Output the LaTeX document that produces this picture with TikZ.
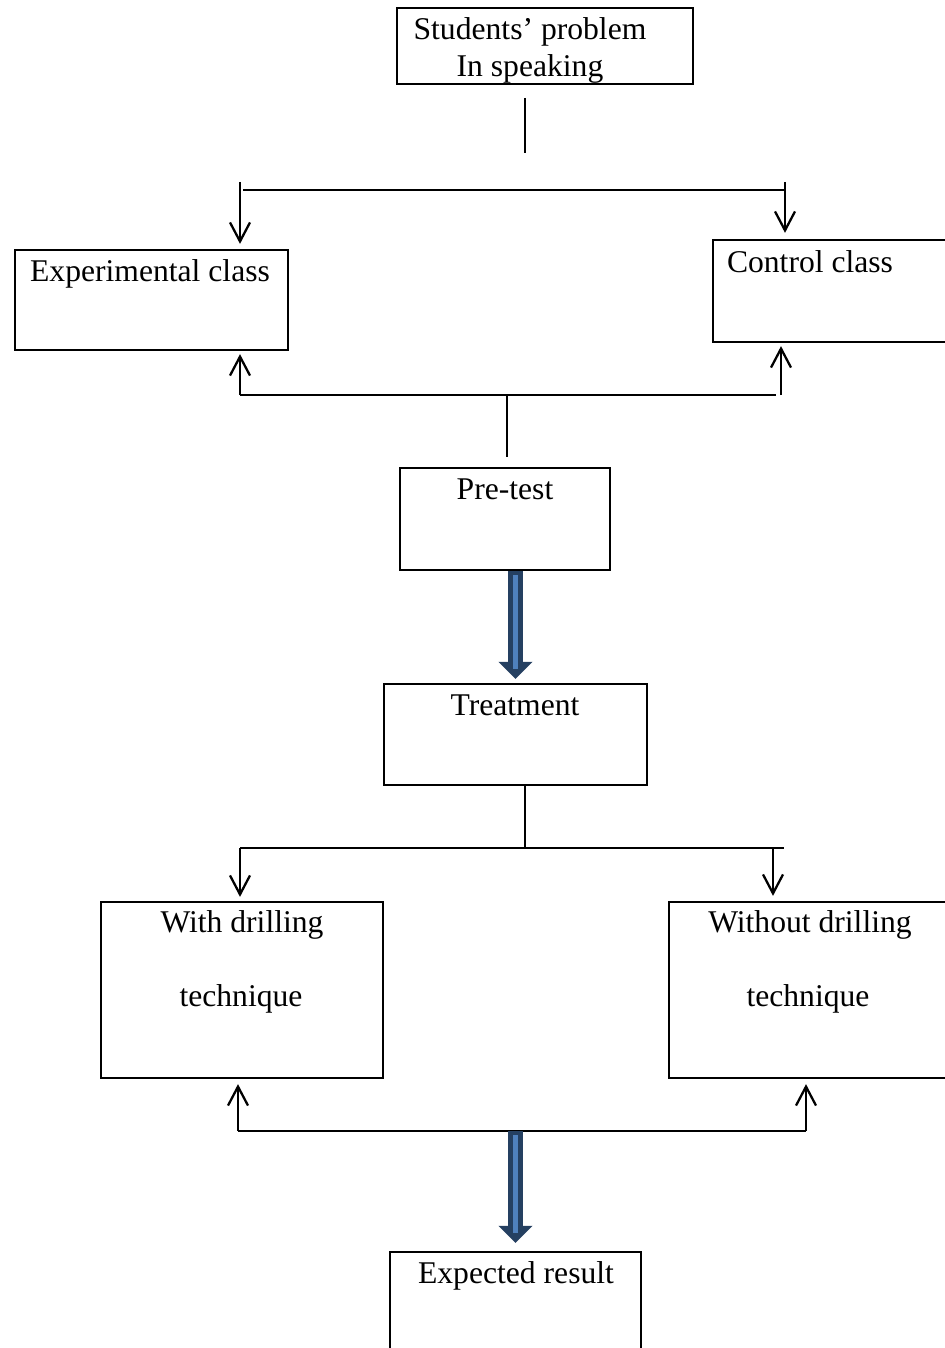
\documentclass[tikz,border=0pt]{standalone}
\usepackage{fontspec}
\setmainfont{Liberation Serif}
\usetikzlibrary{positioning, arrows.meta}
\definecolor{arrdark}{RGB}{37,64,97}
\definecolor{arrlight}{RGB}{79,129,189}

\begin{document}
\begin{tikzpicture}
			[x=0.02cm, y=-0.02cm, line width=1.3pt]
			
			\tikzstyle{box} = [rectangle, draw=black, line width=1.3pt, inner sep=0pt]
			
			\tikzstyle{txt} = [font=\fontsize{18}{21}\selectfont, inner sep=0pt, anchor=base]
			
			\tikzstyle{arrow} = [-{Straight Barb[length=0.38cm, width=0.4cm]}]
			
			\tikzstyle{bigarrow} = [draw=arrdark, line width=0.3cm, -{Triangle[length=0.34cm, width=0.66cm]}]
			
			\tikzstyle{bigstripe} = [draw=arrlight, line width=0.1cm, shorten <=0.08cm]
			
			\useasboundingbox (0,0) rectangle (945,1348);

			\node (stud) [box, minimum width=5.92cm, minimum height=1.52cm] at (545,46) {};
			\node (exp) [box, minimum width=5.46cm, minimum height=2cm] at (151.5,300) {};
			\node (ctrl) [box, minimum width=4.74cm, minimum height=2.04cm] at (831.5,291) {};
			\node (pre) [box, minimum width=4.2cm, minimum height=2.04cm] at (505,519) {};
			\node (treat) [box, minimum width=5.26cm, minimum height=2.02cm] at (515.5,734.5) {};
			\node (with) [box, minimum width=5.64cm, minimum height=3.52cm] at (242,990) {};
			\node (without) [box, minimum width=5.62cm, minimum height=3.52cm] at (809.5,990) {};
			\node (result) [box, minimum width=5.02cm, minimum height=2.16cm] at (515.5,1306) {};
			
			\node (studtxt) [txt] at (530,40) {Students’ problem};
			\node (studtxt2) [txt] at (530,77) {In speaking};
			\node (exptxt) [txt] at (150,281) {Experimental class};
			\node (ctrltxt) [txt] at (810,272) {Control class};
			\node (pretxt) [txt] at (505,499) {Pre-test};
			\node (treattxt) [txt] at (515,715) {Treatment};
			\node (withtxt) [txt] at (242,932) {With drilling};
			\node (withtxt2) [txt] at (241,1006) {technique};
			\node (withouttxt) [txt] at (810,932) {Without drilling};
			\node (withouttxt2) [txt] at (808,1006) {technique};
			\node (resulttxt) [txt] at (516,1283) {Expected result};
			
			\coordinate (ta) at (525,98);
			\coordinate (tb) at (525,153);
			\coordinate (sl) at (240,182);
			\coordinate (sr) at (785,182);
			\coordinate (hl) at (243,190);
			\coordinate (hr) at (784,190);
			\coordinate (pl) at (240,395);
			\coordinate (pr) at (781,395);
			\coordinate (pe) at (776,395);
			\coordinate (pm) at (507,395);
			\coordinate (bm) at (525,848);
			\coordinate (bl) at (240,848);
			\coordinate (br) at (773,848);
			\coordinate (be) at (784,848);
			\coordinate (ul) at (238,1131);
			\coordinate (ur) at (806,1131);
			
			\draw (ta) -- (tb);
			\draw (hl) -- (hr);
			\draw [arrow, shorten >=0.1cm] (sl) -- (sl |- exp.north);
			\draw [arrow, shorten >=0.12cm] (sr) -- (sr |- ctrl.north);
			
			\draw (pl) -- (pe);
			\draw [arrow, shorten >=0.06cm] (pl) -- (pl |- exp.south);
			\draw [arrow, shorten >=0.06cm] (pr) -- (pr |- ctrl.south);
			\draw [shorten >=0.2cm] (pm) -- (pm |- pre.north);
			
			\draw [bigarrow, shorten >=0.08cm] (treat.north |- pre.south) -- (treat.north);
			\draw [bigstripe, shorten >=0.28cm] (treat.north |- pre.south) -- (treat.north);
			
			\draw (bm |- treat.south) -- (bm);
			\draw (bl) -- (be);
			\draw [arrow, shorten >=0.08cm] (bl) -- (bl |- with.north);
			\draw [arrow, shorten >=0.1cm] (br) -- (br |- without.north);
			
			\draw (ul) -- (ur);
			\draw [arrow, shorten >=0.1cm] (ul) -- (ul |- with.south);
			\draw [arrow, shorten >=0.1cm] (ur) -- (ur |- without.south);
			
			\draw [bigarrow, shorten >=0.16cm] (result.north |- ul) -- (result.north);
			\draw [bigstripe, shorten >=0.36cm] (result.north |- ul) -- (result.north);
			
		\end{tikzpicture}
\end{document}
